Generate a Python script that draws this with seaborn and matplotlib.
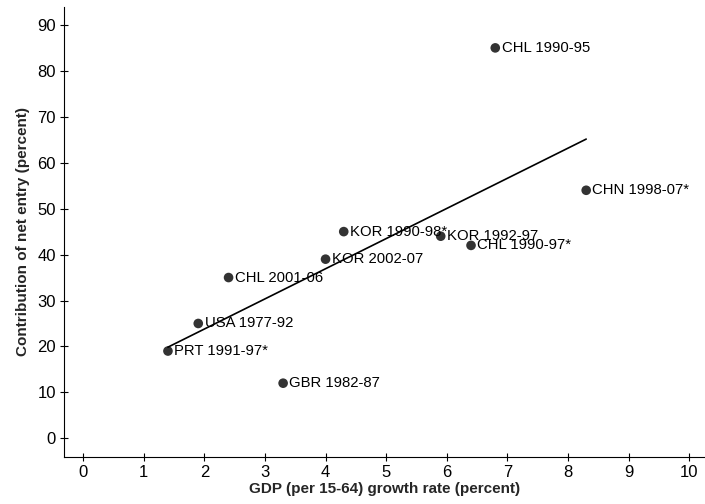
import matplotlib
matplotlib.use("Agg")
import matplotlib.pyplot as plt
import seaborn as sns
import pandas as pd

# Growth episodes: GDP per working-age person growth vs. contribution of net entry
labels = ["CHL 1990-95", "CHN 1998-07*", "KOR 1990-98*", "KOR 1992-97", "CHL 1990-97*",
          "KOR 2002-07", "CHL 2001-06", "USA 1977-92", "PRT 1991-97*", "GBR 1982-87"]
gdp_growth = [6.8, 8.3, 4.3, 5.9, 6.4, 4.0, 2.4, 1.9, 1.4, 3.3]
net_entry = [85, 54, 45, 44, 42, 39, 35, 25, 19, 12]

x_ticks = list(range(0, 11))
y_ticks = list(range(0, 100, 10))

df = pd.DataFrame({"growth": gdp_growth, "entry": net_entry, "label": labels})

sns.set_theme(style="white")
plt.rcParams["font.family"] = ["Liberation Sans", "DejaVu Sans"]

fig = plt.figure(figsize=(7.05, 5.04), dpi=100)
ax = fig.add_axes([64.3 / 705, 1 - 457 / 504, 1 - 64.3 / 705, (457 - 7) / 504])

sns.regplot(data=df, x="growth", y="entry", ci=None, ax=ax,
            scatter_kws={"s": 48, "color": "black", "edgecolor": "none", "zorder": 3},
            line_kws={"color": "black", "linewidth": 1.2})

for gx, gy, lab in zip(gdp_growth, net_entry, labels):
    ax.annotate(lab, (gx, gy), xytext=(4.5, 0), textcoords="offset points",
                ha="left", va="center", fontsize=10.7, color="black")

ax.set_xlim(-0.31, 10.26)
ax.set_ylim(-4.07, 93.9)
ax.set_xticks(x_ticks)
ax.set_yticks(y_ticks)
ax.tick_params(axis="both", direction="inout", length=6, width=0.8, color="black",
               labelsize=12, labelcolor="black", pad=3, bottom=True, left=True)

for side in ["top", "right"]:
    ax.spines[side].set_visible(False)
for side in ["left", "bottom"]:
    ax.spines[side].set_color("black")
    ax.spines[side].set_linewidth(0.8)

ax.set_xlabel("GDP (per 15-64) growth rate (percent)", fontsize=11, fontweight="bold", labelpad=1)
ax.set_ylabel("Contribution of net entry (percent)", fontsize=11, fontweight="bold", labelpad=5)

fig.savefig("out.png", dpi=100)
